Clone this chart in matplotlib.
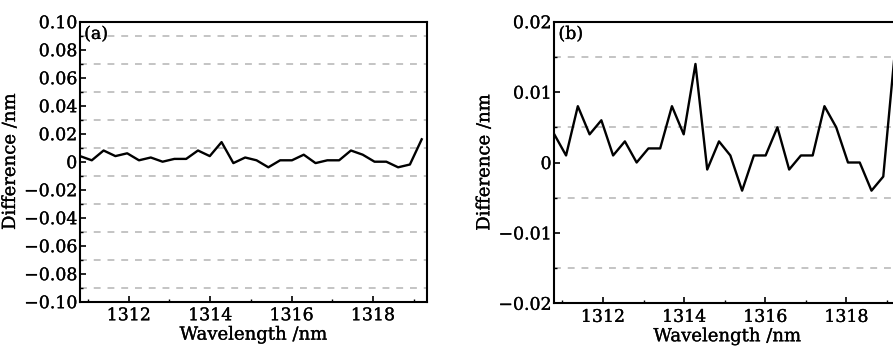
import matplotlib
matplotlib.use("Agg")
import matplotlib.pyplot as plt
import matplotlib.patheffects as pe
from matplotlib.ticker import FixedLocator, MultipleLocator

plt.rcParams['font.family'] = ['DejaVu Serif']
plt.rcParams['font.size'] = 12.5

# wavelength grid (nm) and difference values (nm)
wavelength = [1310.80, 1311.09, 1311.38, 1311.67, 1311.96, 1312.25, 1312.54, 1312.83,
              1313.12, 1313.41, 1313.70, 1313.99, 1314.28, 1314.57, 1314.86, 1315.14,
              1315.43, 1315.72, 1316.01, 1316.30, 1316.59, 1316.88, 1317.17, 1317.46,
              1317.75, 1318.04, 1318.33, 1318.62, 1318.91, 1319.20]
difference = [0.004, 0.001, 0.008, 0.004, 0.006, 0.001, 0.003, 0.000, 0.002, 0.002,
              0.008, 0.004, 0.014, -0.001, 0.003, 0.001, -0.004, 0.001, 0.001, 0.005,
              -0.001, 0.001, 0.001, 0.008, 0.005, 0.000, 0.000, -0.004, -0.002, 0.016]

xticks = [1312, 1314, 1316, 1318]

a_yticks = [0.10, 0.08, 0.06, 0.04, 0.02, 0, -0.02, -0.04, -0.06, -0.08, -0.10]
a_ylabels = ['0.10', '0.08', '0.06', '0.04', '0.02', '0', '\u22120.02', '\u22120.04',
             '\u22120.06', '\u22120.08', '\u22120.10']
a_grid = [0.09, 0.07, 0.05, 0.03, 0.01, -0.01, -0.03, -0.05, -0.07, -0.09]

b_yticks = [0.02, 0.01, 0, -0.01, -0.02]
b_ylabels = ['0.02', '0.01', '0', '\u22120.01', '\u22120.02']
b_grid = [0.015, 0.005, -0.005, -0.015]

W, H = 893, 346
fig = plt.figure(figsize=(W / 100, H / 100), dpi=100)
ax_a = fig.add_axes([80 / W, (H - 301.7) / H, 347 / W, 280 / H])
ax_b = fig.add_axes([554.3 / W, (H - 303.3) / H, 346 / W, 281.6 / H])

heavy = [pe.withStroke(linewidth=0.2, foreground='black')]


def style(ax, yticks, ylabels, grid, ylim, tag):
    for g in grid:
        ax.axhline(g, color='#b4b4b4', lw=1.1, ls=(0, (4.5, 4.5)), zorder=1)
    ax.plot(wavelength, difference, color='black', lw=1.7, zorder=3)
    ax.set_xlim(1310.8, 1319.33)
    ax.set_ylim(*ylim)
    ax.xaxis.set_major_locator(FixedLocator(xticks))
    ax.xaxis.set_minor_locator(MultipleLocator(1))
    ax.set_xticklabels([str(t) for t in xticks])
    ax.set_yticks(yticks)
    ax.set_yticklabels(ylabels)
    ax.yaxis.set_minor_locator(FixedLocator(grid))
    ax.tick_params(which='major', direction='in', length=4, width=1.2, pad=4)
    ax.tick_params(axis='y', which='major', pad=2)
    ax.tick_params(which='minor', direction='in', length=2.5, width=1)
    for sp in ax.spines.values():
        sp.set_linewidth(1.5)
    ax.set_xlabel('Wavelength /nm', labelpad=1, fontsize=13, path_effects=heavy)
    ax.set_ylabel('Difference /nm', labelpad=2, fontsize=13, path_effects=heavy)
    for lab in ax.get_xticklabels() + ax.get_yticklabels():
        lab.set_path_effects(heavy)
    ax.text(0.012, 0.985, tag, transform=ax.transAxes, ha='left', va='top',
            path_effects=heavy)


style(ax_a, a_yticks, a_ylabels, a_grid, (-0.1, 0.1), '(a)')
style(ax_b, b_yticks, b_ylabels, b_grid, (-0.02, 0.02), '(b)')
ax_a.yaxis.set_label_coords(-61 / 347, 0.5)
ax_b.yaxis.set_label_coords(-61 / 346, 0.5)

fig.savefig('out.png', dpi=100)
